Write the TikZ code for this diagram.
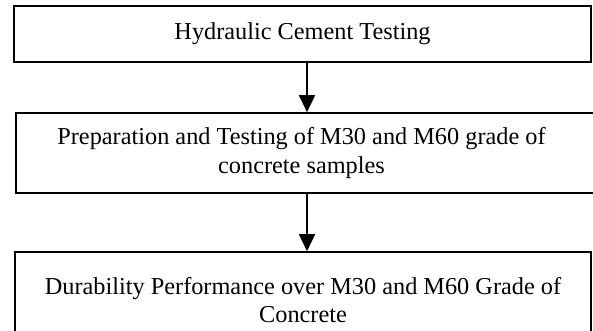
\documentclass[tikz,border=0pt]{standalone}
\usepackage{fontspec}
\setmainfont{Liberation Serif}
\usetikzlibrary{arrows.meta,calc}
\begin{document}
\begin{tikzpicture}[x=1pt,y=1pt,
  stagebox/.style={draw=black, line width=1.6pt, rectangle, align=center,
    inner sep=0pt, font=\fontsize{24.3}{28.5}\selectfont},
  stagetext/.style={align=center, inner sep=0pt,
    font=\fontsize{24.3}{28.5}\selectfont},
  flowarrow/.style={draw=black, line width=1.6pt,
    -{Triangle[length=17pt,width=16pt]}}]
  \useasboundingbox (0,0) rectangle (593,330);
  % stage boxes, top to bottom
  \node[stagebox, minimum width=577, minimum height=56] (b1)
    at (302.5,296) {Hydraulic Cement Testing};
  \node[stagebox, minimum width=579, minimum height=80] (b2)
    at (305.5,177) {};
  \node[stagetext] (t2) at (301.5,177)
    {Preparation and Testing of M30 and M60 grade of\\concrete samples};
  \node[stagebox, minimum width=576, minimum height=96] (b3)
    at (303,30) {Durability Performance over M30 and M60 Grade of\\Concrete};
  % arrows between stages
  \coordinate (ax) at (307,0);
  \draw[flowarrow] (b1.south -| ax) -- (b2.north -| ax);
  \draw[flowarrow] (b2.south -| ax) -- (b3.north -| ax);
\end{tikzpicture}
\end{document}
